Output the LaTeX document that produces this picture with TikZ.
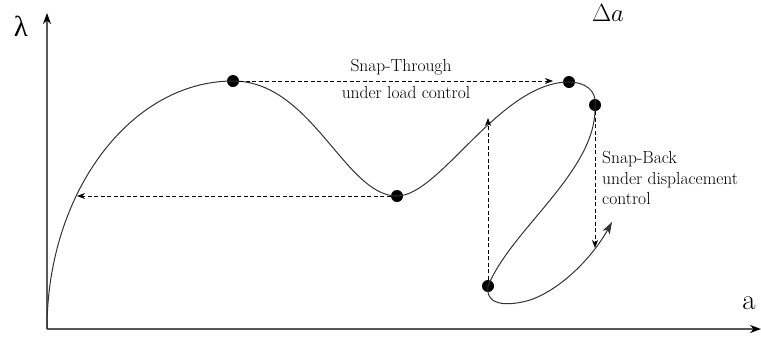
\documentclass[tikz,border=0pt]{standalone}
\usepackage{fontspec}
\newfontfamily\grfont{Liberation Serif}
\usetikzlibrary{arrows.meta}
\begin{document}
\begin{tikzpicture}[x=1pt,y=-1pt,
  axis/.style={line width=1.4pt, black!65, -{Stealth[length=11pt,width=8pt,black]}},
  curve/.style={line width=1pt, black!80},
  dasharrow/.style={line width=0.9pt, black, dash pattern=on 4pt off 2.5pt, -{Stealth[length=8pt,width=6pt,inset=2.5pt]}},
  dot/.style={circle, fill=black, inner sep=0pt, minimum size=12pt},
  lbl/.style={font=\fontsize{17.5}{20.5}\selectfont, inner sep=0pt},
  big/.style={font=\fontsize{29}{32}\selectfont, inner sep=0pt}]
\useasboundingbox (0,0) rectangle (761,338);
% axes
\coordinate (o) at (47,329);
\coordinate (ytop) at (47,13);
\coordinate (xend) at (761,329);
\draw[axis] (o) -- (ytop);
\draw[axis] (o) -- (xend);
\node[big] (lam) at (21,26) {\grfont λ};
\node[big, anchor=base] (alab) at (749,309) {a};
\node[big, anchor=base] (da) at (608,21) {$\Delta a$};
% dots
\node[dot] (p1) at (233,81) {};
\node[dot] (v) at (397,196) {};
\node[dot] (p2) at (569,82) {};
\node[dot] (q) at (595,105) {};
\node[dot] (b) at (488,286) {};
% curve
\coordinate (cend) at (612,222);
\draw[curve] (o) .. controls (47,192) and (131,81) .. (p1.center)
  .. controls (312,81) and (345,196) .. (v.center)
  .. controls (440,196) and (500,82) .. (p2.center)
  .. controls (584,82) and (597,90) .. (q.center)
  .. controls (598,170) and (512,228) .. (b.center);
\draw[curve, -{Stealth[length=12pt,width=8pt,inset=3pt]}] (b.center) .. controls (485,307) and (510,306) .. (530,300)
  .. controls (560,290) and (592,258) .. (cend);
% dashed arrows
\coordinate (d1) at (553,81);
\coordinate (d2) at (77,196);
\coordinate (d3) at (488,118);
\coordinate (d4) at (595,248);
\draw[dasharrow] (p1) -- (d1);
\draw[dasharrow] (v) -- (d2);
\draw[dasharrow] (b) -- (d3);
\draw[dasharrow] (q) -- (d4);
% labels
\node[lbl] (t1) at (401,67) {Snap-Through};
\node[lbl] (t2) at (406,92) {under load control};
\node[lbl, anchor=west, align=left] (t3) at (602,178) {Snap-Back\\under displacement\\control};
\end{tikzpicture}
\end{document}
